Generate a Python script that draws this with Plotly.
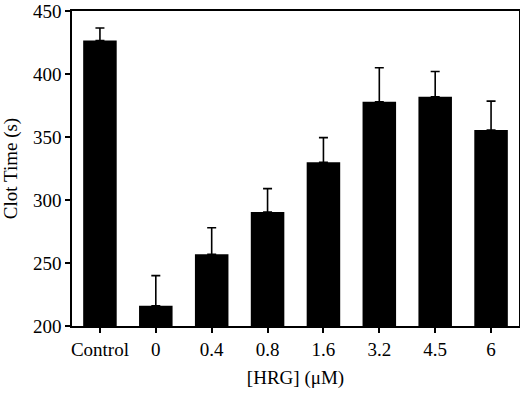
import plotly.graph_objects as go

categories = ["Control", "0", "0.4", "0.8", "1.6", "3.2", "4.5", "6"]
clot_time = [426.5, 216, 257, 290.5, 330, 378, 382, 355.5]
error_up = [10, 24, 21, 18.5, 19.5, 27, 20, 23]

fig = go.Figure(go.Bar(
    x=categories, y=clot_time,
    marker=dict(color="black", line=dict(width=0)),
    error_y=dict(type="data", symmetric=False, array=error_up,
                 arrayminus=[0] * len(error_up), color="black",
                 thickness=1.6, width=4.5),
))

font = dict(family="Liberation Serif, Times New Roman, serif", size=19, color="black")
fig.update_layout(
    width=520, height=395,
    margin=dict(l=72, r=1, t=11, b=69),
    paper_bgcolor="white", plot_bgcolor="white",
    font=font, bargap=0.4, showlegend=False,
    xaxis=dict(title=dict(text="[HRG] (μM)", font=font, standoff=12),
               automargin=False,
               showline=True, linecolor="black", linewidth=1.5, mirror=True,
               ticks="outside", ticklen=5, tickwidth=1.5, tickcolor="black",
               tickfont=font, showgrid=False),
    yaxis=dict(title=dict(text="Clot Time (s)", font=font, standoff=12),
               automargin=False, ticklabeloverflow="allow",
               range=[200, 450], tickvals=[200, 250, 300, 350, 400, 450],
               showline=True, linecolor="black", linewidth=1.5, mirror=True,
               ticks="outside", ticklen=5, tickwidth=1.5, tickcolor="black",
               tickfont=font, showgrid=False, zeroline=False),
)
fig.write_html("out.html", config={"displayModeBar": False},
               post_script="document.body.style.margin='0';document.body.style.overflow='hidden';")
